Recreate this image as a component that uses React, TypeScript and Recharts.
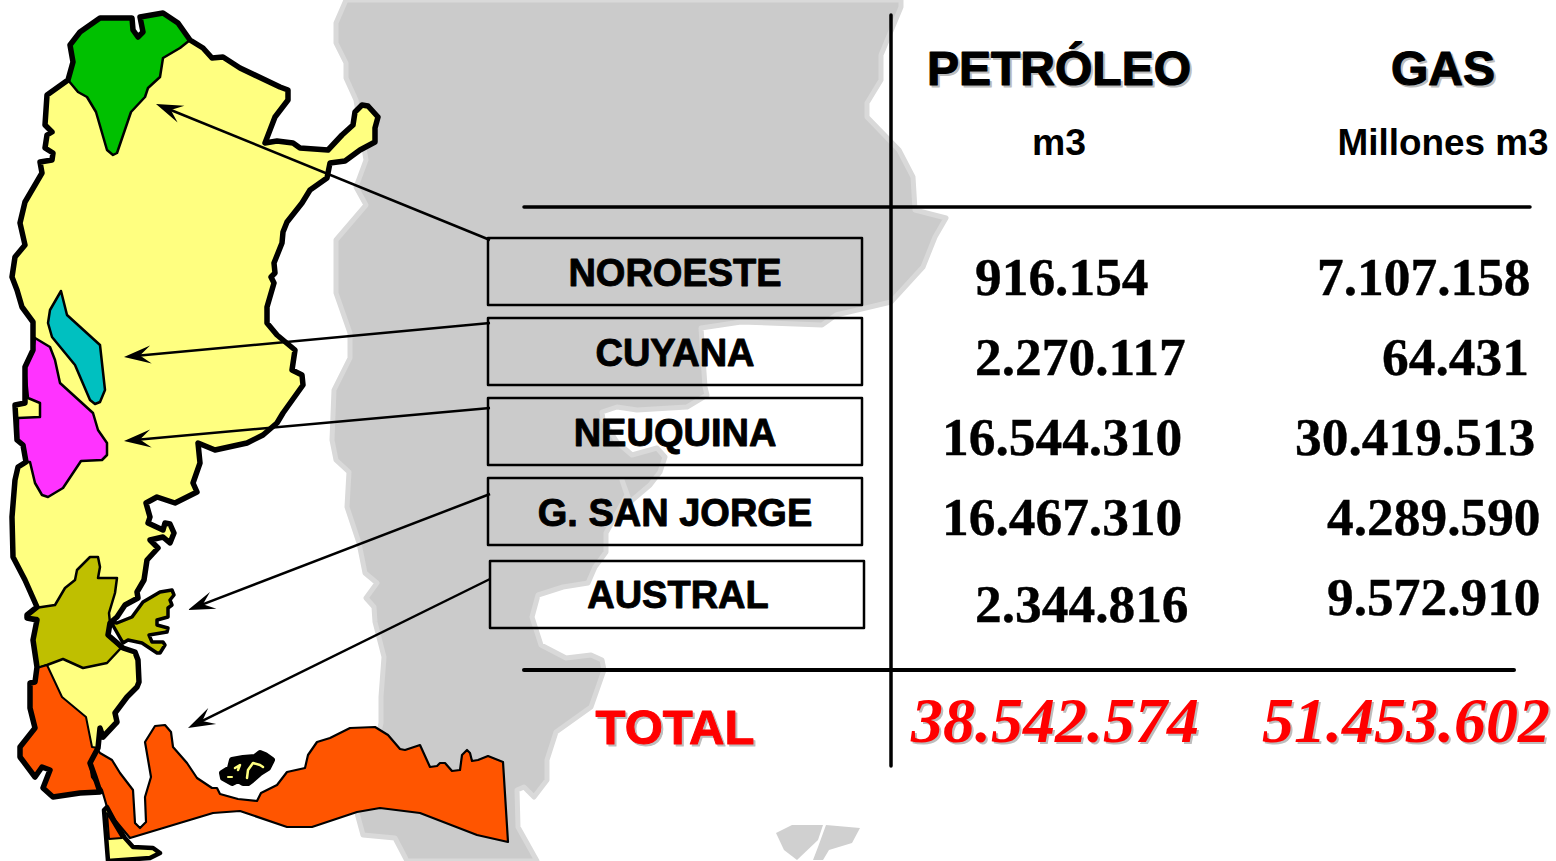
import React from 'react';
import { ScatterChart, Scatter, XAxis, YAxis } from 'recharts';

type Pt = [number, number];

// ---------- table content ----------
const regions = ['NOROESTE', 'CUYANA', 'NEUQUINA', 'G. SAN JORGE', 'AUSTRAL'];
const petroleo = ['916.154', '2.270.117', '16.544.310', '16.467.310', '2.344.816'];
const gas = ['7.107.158', '64.431', '30.419.513', '4.289.590', '9.572.910'];
const totals = ['38.542.574', '51.453.602'];

// ---------- map outlines (x, y in the chart's scale) ----------
const backdrop: Pt[] = [[346,0],[336,23],[336,43],[346,63],[346,78],[356,100],[366,160],[356,187],[366,205],[336,240],[336,293],[350,333],[350,358],[334,390],[332,440],[336,460],[349,472],[347,507],[359,543],[365,573],[377,583],[366,598],[374,607],[375,622],[384,657],[381,697],[381,723],[370,770],[357,813],[363,835],[395,838],[407,861],[537,861],[518,827],[517,790],[524,787],[534,797],[547,780],[547,760],[556,732],[591,707],[604,670],[602,660],[591,655],[566,658],[541,645],[532,617],[538,595],[563,587],[588,583],[595,567],[606,552],[606,533],[627,495],[622,480],[630,502],[650,485],[660,472],[665,457],[657,448],[632,455],[617,442],[603,420],[602,412],[617,407],[637,410],[687,407],[707,395],[705,387],[701,328],[741,322],[822,325],[836,315],[891,302],[923,267],[935,237],[946,218],[915,210],[913,177],[899,150],[867,117],[867,103],[881,80],[881,55],[901,7],[901,0]];
const wmA: Pt[] = [[776,833],[792,825],[823,825],[818,840],[797,860],[784,850]];
const wmB: Pt[] = [[826,825],[860,828],[852,843],[829,850],[823,860],[813,860],[818,847]];

const mainland: Pt[] = [[100,18],[132,18],[133,30],[138,37],[143,32],[140,17],[163,13],[178,23],[190,40],[203,48],[212,58],[223,57],[240,68],[280,87],[288,90],[288,100],[275,117],[265,143],[277,141],[293,143],[300,148],[328,150],[342,135],[353,125],[355,112],[362,105],[368,106],[378,117],[375,128],[375,142],[360,150],[345,161],[330,163],[327,178],[310,190],[302,203],[287,222],[283,232],[282,243],[274,263],[275,273],[271,277],[274,283],[267,307],[267,323],[277,335],[295,350],[292,370],[302,375],[303,385],[283,413],[277,423],[263,435],[247,443],[215,450],[198,443],[200,463],[193,483],[197,492],[175,503],[157,497],[146,503],[150,517],[148,523],[163,530],[165,523],[170,524],[174,533],[170,543],[163,537],[150,540],[158,548],[147,560],[144,580],[137,592],[138,598],[125,605],[117,617],[110,623],[108,635],[123,648],[135,652],[138,660],[139,682],[137,687],[127,697],[115,713],[117,722],[103,737],[100,728],[98,748],[90,763],[95,777],[100,792],[80,793],[53,797],[43,788],[50,770],[42,767],[35,777],[20,757],[20,747],[35,728],[30,708],[30,683],[35,682],[37,667],[33,640],[37,620],[27,618],[27,615],[37,607],[25,580],[13,557],[12,517],[15,480],[18,467],[26,462],[23,445],[17,440],[15,405],[25,403],[25,367],[33,350],[33,322],[22,307],[17,290],[12,277],[15,257],[25,245],[20,223],[25,202],[42,173],[40,162],[52,160],[53,153],[45,148],[47,135],[52,132],[45,125],[47,95],[68,80],[73,62],[70,45],[80,32]];
const fireland: Pt[] = [[104,810],[108,861],[150,858],[160,853],[153,848],[133,847],[125,838],[115,822],[107,807]];
const noroeste: Pt[] = [[68,80],[73,62],[70,45],[80,32],[100,18],[132,18],[133,30],[138,37],[143,32],[140,17],[163,13],[178,23],[190,40],[180,48],[163,58],[160,77],[148,88],[145,97],[131,112],[117,153],[113,155],[107,150],[96,112],[87,97],[78,92]];
const cuyana: Pt[] = [[61,291],[50,310],[48,323],[52,337],[75,365],[90,400],[95,404],[100,402],[105,390],[100,345],[67,315]];
const neuquina: Pt[] = [[35,338],[50,347],[55,360],[60,383],[93,413],[98,430],[107,443],[107,455],[102,460],[81,461],[63,488],[48,497],[42,495],[35,483],[30,462],[26,462],[23,445],[18,440],[18,418],[40,417],[40,403],[28,398],[25,368],[33,350]];
const sanJorgeWest: Pt[] = [[35,608],[55,605],[65,588],[75,580],[77,570],[90,557],[98,557],[100,567],[98,578],[117,578],[115,593],[109,613],[110,623],[108,635],[121,648],[107,663],[83,668],[63,659],[47,665],[38,668],[33,640],[37,618],[27,618],[27,615]];
const sanJorgeEast: Pt[] = [[111,622],[117,623],[132,617],[143,602],[160,592],[172,590],[174,595],[170,600],[172,605],[168,608],[168,617],[157,620],[157,625],[168,628],[167,632],[149,635],[152,642],[163,642],[165,645],[160,653],[157,653],[142,643],[128,640],[123,643]];
const australWest: Pt[] = [[47,665],[37,668],[35,682],[30,683],[30,708],[35,728],[20,747],[20,757],[35,777],[42,767],[50,770],[43,788],[53,797],[80,793],[100,792],[95,777],[90,763],[98,748],[92,747],[86,717],[62,697]];
const australEast: Pt[] = [[100,753],[112,760],[120,773],[133,790],[135,823],[140,828],[146,822],[145,797],[151,777],[145,742],[155,726],[165,725],[171,732],[173,747],[187,763],[197,778],[212,788],[217,788],[220,794],[238,799],[257,801],[261,793],[277,785],[287,772],[305,768],[308,755],[317,742],[330,738],[350,728],[375,727],[388,735],[400,749],[405,750],[420,745],[430,767],[437,766],[440,763],[445,763],[452,771],[460,770],[462,755],[467,750],[470,753],[472,761],[478,760],[488,756],[503,762],[508,842],[477,835],[420,813],[380,808],[357,812],[312,827],[287,827],[240,811],[213,813],[130,838],[115,820],[107,807],[102,790],[92,777],[90,763],[98,750]];
const australTip: Pt[] = [[107,813],[109,839],[122,838]];
const malvinas: Pt[] = [[222,773],[230,768],[232,760],[243,758],[255,757],[260,753],[265,755],[272,760],[268,768],[260,773],[252,780],[248,783],[243,783],[238,780],[232,783],[223,778]];
const malvinasInkA: Pt[] = [[247,778],[248,770],[253,763],[260,765],[263,767]];
const malvinasInkB: Pt[] = [[235,768],[240,765],[238,770]];
const malvinasInkC: Pt[] = [[228,777],[232,777]];

// ---------- callouts (from box, to arrow tip) ----------
const arrows: [Pt, Pt][] = [
  [[490,240],[156,104]],
  [[490,323],[124,357]],
  [[490,408],[124,441]],
  [[490,494],[188,610]],
  [[490,579],[188,728]],
];

// ---------- layout of the table ----------
const boxLeft = [488, 488, 488, 488, 490];
const boxTop = [238, 318, 398, 478, 561];
const boxW = 374;
const boxH = 67;
const labelX = [675, 675, 675, 675, 678];
const labelY = [286, 366, 446, 526, 608];
const petroleoX = [975, 975, 942, 942, 975];
const petroleoY = [295, 375, 455, 535, 622];
const gasX = [1317, 1382, 1295, 1327, 1327];
const gasY = [295, 375, 455, 535, 615];

const toRows = (pts: Pt[]) => pts.map(([x, y]) => ({ x, y }));

const outline = (close: boolean, fill: string, stroke: string, width: number) => (p: any) => {
  const d = p.points.map((q: any, i: number) => `${i ? 'L' : 'M'}${q.x} ${q.y}`).join(' ') + (close ? ' Z' : '');
  return <path d={d} fill={fill} stroke={stroke} strokeWidth={width} strokeLinejoin="round" strokeLinecap="round" />;
};

const arrowLine = (p: any) => {
  const [a, b] = p.points;
  const dx = b.x - a.x, dy = b.y - a.y;
  const len = Math.hypot(dx, dy);
  const ux = dx / len, uy = dy / len;
  const nx = -uy, ny = ux;
  const wing = (back: number, side: number) => `${b.x - ux * back + nx * side} ${b.y - uy * back + ny * side}`;
  return (
    <g>
      <line x1={a.x} y1={a.y} x2={b.x - ux * 8} y2={b.y - uy * 8} stroke="#000" strokeWidth={2.5} />
      <path d={`M${b.x} ${b.y} L${wing(27, 9)} L${wing(16, 0)} L${wing(27, -9)} Z`} fill="#000" />
    </g>
  );
};

const noMark = () => null;

const polyProps = { isAnimationActive: false, shape: noMark } as const;

const word = (style: any) => (p: any) => {
  const { cx, cy, payload } = p;
  const { shadow, ...rest } = style;
  return (
    <g>
      {shadow ? (
        <text x={cx + shadow} y={cy + shadow} {...rest} fill="#BDBDBD" stroke={rest.stroke ? '#BDBDBD' : undefined}>
          {payload.label}
        </text>
      ) : null}
      <text x={cx} y={cy} {...rest}>
        {payload.label}
      </text>
    </g>
  );
};

const sans = 'Liberation Sans';
const serif = 'Liberation Serif';

const heading = word({ fontFamily: sans, fontWeight: 700, fontSize: 48, textAnchor: 'middle', fill: '#000', stroke: '#000', strokeWidth: 1.2, strokeLinejoin: 'round', shadow: 2 });
const units = word({ fontFamily: sans, fontWeight: 700, fontSize: 36, textAnchor: 'middle', fill: '#000', textLength: 54, lengthAdjust: 'spacingAndGlyphs' });
const unitsWide = word({ fontFamily: sans, fontWeight: 700, fontSize: 36, textAnchor: 'middle', fill: '#000', textLength: 211, lengthAdjust: 'spacingAndGlyphs' });
const boxLabel = word({ fontFamily: sans, fontWeight: 700, fontSize: 38, textAnchor: 'middle', fill: '#000', stroke: '#000', strokeWidth: 0.9, strokeLinejoin: 'round' });
const figure = word({ fontFamily: serif, fontWeight: 700, fontSize: 53.4, textAnchor: 'start', fill: '#000', stroke: '#000', strokeWidth: 0.4 });
const totalLabel = word({ fontFamily: sans, fontWeight: 700, fontSize: 49, textAnchor: 'middle', fill: '#FF0000', stroke: '#FF0000', strokeWidth: 1, strokeLinejoin: 'round', shadow: 2 });
const totalFigure = word({ fontFamily: serif, fontWeight: 700, fontStyle: 'italic', fontSize: 64, textAnchor: 'start', fill: '#FF0000', shadow: 2 });

const region = (key: string, pts: Pt[], fill: string, stroke: string, width: number, close = true) => (
  <Scatter key={key} data={toRows(pts)} dataKey="y" {...polyProps} line={outline(close, fill, stroke, width)} />
);

export default function App() {
  return (
    <div style={{ position: 'absolute', left: 0, top: 0, width: 1556, height: 861, background: '#fff' }}>
      <ScatterChart width={1556} height={861} margin={{ top: 0, right: 0, bottom: 0, left: 0 }}>
        <XAxis type="number" dataKey="x" domain={[0, 1556]} hide />
        <YAxis type="number" dataKey="y" domain={[0, 861]} reversed hide />

        {region('backdrop', backdrop, '#CBCBCB', '#D9D9D9', 5)}
        {region('wmA', wmA, '#D0D0D0', 'none', 0)}
        {region('wmB', wmB, '#D0D0D0', 'none', 0)}

        {region('land', mainland, '#FFFF80', 'none', 0)}
        {region('fire', fireland, '#FFFF80', 'none', 0)}
        {region('noroeste', noroeste, '#00C000', '#000', 2.5)}
        {region('cuyana', cuyana, '#00C0C0', '#000', 2.5)}
        {region('neuquina', neuquina, '#FF33FF', '#000', 2.5)}
        {region('sjWest', sanJorgeWest, '#BFBF00', '#000', 2.5)}
        {region('sjEast', sanJorgeEast, '#BFBF00', '#000', 3.5)}
        {region('auWest', australWest, '#FF5500', '#000', 2)}
        {region('auEast', australEast, '#FF5500', '#000', 2.2)}
        {region('auTip', australTip, '#FF5500', '#000', 2)}
        {region('coast', mainland, 'none', '#000', 5.5)}
        {region('fireCoast', fireland, 'none', '#000', 4.5)}
        {region('malvinas', malvinas, '#000', '#000', 6)}
        {region('inkA', malvinasInkA, 'none', '#FFFF80', 2.5, false)}
        {region('inkB', malvinasInkB, 'none', '#FFFF80', 2.5, false)}
        {region('inkC', malvinasInkC, 'none', '#FFFF80', 2, false)}

        {arrows.map(([from, to], i) => (
          <Scatter key={`arrow${i}`} data={toRows([from, to])} dataKey="y" {...polyProps} line={arrowLine} />
        ))}

        {regions.map((name, i) => {
          const x0 = boxLeft[i], y0 = boxTop[i];
          const corners: Pt[] = [[x0, y0], [x0 + boxW, y0], [x0 + boxW, y0 + boxH], [x0, y0 + boxH]];
          return region(`box${name}`, corners, 'none', '#000', 2.5);
        })}

        {region('rule1', [[891, 15], [891, 766]], 'none', '#000', 3.5, false)}
        {region('rule2', [[524, 207], [1530, 207]], 'none', '#000', 3.5, false)}
        {region('rule3', [[524, 670], [1514, 670]], 'none', '#000', 4, false)}

        <Scatter data={[{ x: 1059, y: 85, label: 'PETRÓLEO' }, { x: 1443, y: 85, label: 'GAS' }]} dataKey="y" isAnimationActive={false} shape={heading} />
        <Scatter data={[{ x: 1059, y: 155, label: 'm3' }]} dataKey="y" isAnimationActive={false} shape={units} />
        <Scatter data={[{ x: 1443, y: 155, label: 'Millones m3' }]} dataKey="y" isAnimationActive={false} shape={unitsWide} />
        <Scatter data={regions.map((label, i) => ({ x: labelX[i], y: labelY[i], label }))} dataKey="y" isAnimationActive={false} shape={boxLabel} />
        <Scatter data={petroleo.map((label, i) => ({ x: petroleoX[i], y: petroleoY[i], label }))} dataKey="y" isAnimationActive={false} shape={figure} />
        <Scatter data={gas.map((label, i) => ({ x: gasX[i], y: gasY[i], label }))} dataKey="y" isAnimationActive={false} shape={figure} />
        <Scatter data={[{ x: 675, y: 744, label: 'TOTAL' }]} dataKey="y" isAnimationActive={false} shape={totalLabel} />
        <Scatter data={[{ x: 911, y: 742, label: totals[0] }, { x: 1262, y: 742, label: totals[1] }]} dataKey="y" isAnimationActive={false} shape={totalFigure} />
      </ScatterChart>
    </div>
  );
}
